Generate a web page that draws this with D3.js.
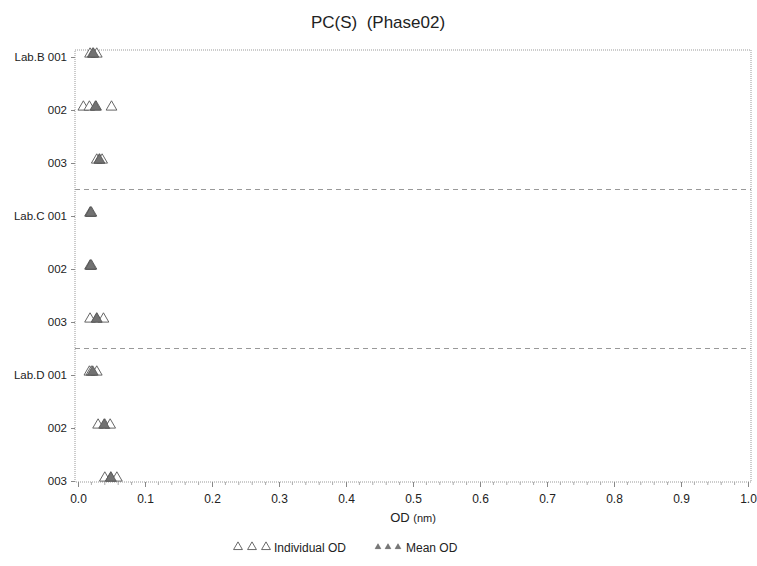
<!DOCTYPE html>
<html>
<head>
<meta charset="utf-8">
<script src="https://cdn.jsdelivr.net/npm/d3@7"></script>
<style>
  body { margin: 0; background: #fff; }
  text { font-family: "Liberation Sans", Arial, sans-serif; fill: #222; white-space: pre; }
</style>
</head>
<body>
<div id="chart"></div>
<script>
// row labels (lab / sample) top to bottom
const rowIds = ["B001", "B002", "B003", "C001", "C002", "C003", "D001", "D002", "D003"];
const rowLabels = ["Lab.B 001", "002", "003", "Lab.C 001", "002", "003", "Lab.D 001", "002", "003"];
// individual OD readings per row
const individualOD = [
  [0.018, 0.022, 0.028],
  [0.008, 0.017, 0.027, 0.050],
  [0.028, 0.032, 0.036],
  [0.018, 0.019, 0.020],
  [0.018, 0.019, 0.020],
  [0.018, 0.028, 0.038],
  [0.017, 0.020, 0.028],
  [0.030, 0.040, 0.048],
  [0.040, 0.049, 0.058]
];
// mean OD per row
const meanOD = [0.023, 0.026, 0.032, 0.019, 0.019, 0.028, 0.022, 0.039, 0.049];
// group separators sit between these rows
const groupBreaks = [["B003", "C001"], ["C003", "D001"]];
const xTicks = [0, 0.1, 0.2, 0.3, 0.4, 0.5, 0.6, 0.7, 0.8, 0.9, 1.0];

const W = 757, H = 566;
const frame = {left: 75, right: 751, top: 50, bottom: 482};

const svg = d3.select("#chart").append("svg")
    .attr("width", W)
    .attr("height", H);

const x = d3.scaleLinear().domain([0, 1]).range([78, 748]);
const y = d3.scalePoint().domain(rowIds).range([57, 481]);

// frame (dotted grey)
svg.append("rect")
    .attr("x", frame.left).attr("y", frame.top)
    .attr("width", frame.right - frame.left)
    .attr("height", frame.bottom - frame.top)
    .attr("fill", "none")
    .attr("stroke", "#999")
    .attr("stroke-width", 1)
    .attr("stroke-dasharray", "1,1");

// group separators
groupBreaks.forEach(function (b) {
    let yy = (y(b[0]) + y(b[1])) / 2;
    svg.append("line")
        .attr("x1", frame.left).attr("x2", frame.right)
        .attr("y1", yy).attr("y2", yy)
        .attr("stroke", "#999")
        .attr("stroke-dasharray", "5,4");
});

// x axis
const xAxis = d3.axisBottom(x)
    .tickValues(xTicks)
    .tickFormat(d3.format(".1f"))
    .tickSize(5)
    .tickPadding(7);

const gx = svg.append("g")
    .attr("transform", "translate(0," + frame.bottom + ")")
    .call(xAxis);
gx.select(".domain").remove();
gx.selectAll(".tick line").attr("stroke", "#888");
gx.selectAll(".tick text").attr("font-size", 12).attr("fill", "#222")
    .attr("font-family", "Liberation Sans, Arial, sans-serif");

// minor ticks
const minor = d3.range(0, 1.0001, 0.02).filter(function (v) {
    return Math.abs(v * 10 - Math.round(v * 10)) > 1e-6;
});
svg.append("g").selectAll("line").data(minor).join("line")
    .attr("x1", d => x(d)).attr("x2", d => x(d))
    .attr("y1", frame.bottom).attr("y2", frame.bottom + 3)
    .attr("stroke", "#aaa");

// y axis
const yAxis = d3.axisLeft(y)
    .tickFormat((d, i) => rowLabels[i])
    .tickSize(4)
    .tickPadding(4);
const gy = svg.append("g")
    .attr("transform", "translate(" + frame.left + ",0)")
    .call(yAxis);
gy.select(".domain").remove();
gy.selectAll(".tick line").attr("stroke", "#888");
gy.selectAll(".tick text").attr("font-size", 11.5).attr("fill", "#222")
    .attr("font-family", "Liberation Sans, Arial, sans-serif");

// triangles
const tri = d3.symbol().type(d3.symbolTriangle).size(50);
const triSmall = d3.symbol().type(d3.symbolTriangle).size(14);

const indivPts = [];
individualOD.forEach(function (vals, i) {
    vals.forEach(function (v) { indivPts.push({row: rowIds[i], v: v}); });
});

svg.append("g").selectAll("path").data(indivPts).join("path")
    .attr("d", tri)
    .attr("transform", d => "translate(" + x(d.v) + "," + (y(d.row) - 3) + ")")
    .attr("fill", "#fff")
    .attr("stroke", "#555")
    .attr("stroke-width", 0.9);

svg.append("g").selectAll("path").data(meanOD).join("path")
    .attr("d", tri)
    .attr("transform", (d, i) => "translate(" + x(d) + "," + (y(rowIds[i]) - 3) + ")")
    .attr("fill", "#727272")
    .attr("stroke", "#555")
    .attr("stroke-width", 0.8);

// title
svg.append("text")
    .attr("x", 378).attr("y", 28)
    .attr("text-anchor", "middle")
    .attr("font-size", 17)
    .text("PC(S)  (Phase02)");

// x label
const xl = svg.append("text")
    .attr("x", (frame.left + frame.right) / 2).attr("y", 522)
    .attr("text-anchor", "middle")
    .attr("font-size", 13);
xl.append("tspan").text("OD ");
xl.append("tspan").attr("font-size", 11).text("(nm)");

// legend
const leg = svg.append("g").attr("transform", "translate(0,548)");
[238, 252, 266].forEach(function (lx) {
    leg.append("path").attr("d", d3.symbol().type(d3.symbolTriangle).size(34))
        .attr("transform", "translate(" + lx + ",-1)")
        .attr("fill", "#fff").attr("stroke", "#444").attr("stroke-width", 0.8);
});
leg.append("text").attr("x", 274).attr("y", 4).attr("font-size", 12).text("Individual OD");
[378, 388, 398].forEach(function (lx) {
    leg.append("path").attr("d", triSmall)
        .attr("transform", "translate(" + lx + ",-1)")
        .attr("fill", "#777").attr("stroke", "#555").attr("stroke-width", 0.5);
});
leg.append("text").attr("x", 406).attr("y", 4).attr("font-size", 12).text("Mean OD");
</script>
</body>
</html>
